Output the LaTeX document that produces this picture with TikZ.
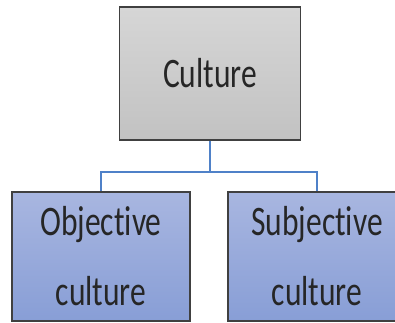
\documentclass[tikz,border=0pt]{standalone}
\usepackage{fontspec}
\newfontfamily\narrowfont[FakeStretch=0.75,Ligatures=NoCommon]{Carlito}
\definecolor{grayTop}{RGB}{214,214,214}
\definecolor{grayBot}{RGB}{194,194,194}
\definecolor{blueTop}{RGB}{168,182,224}
\definecolor{blueBot}{RGB}{136,158,214}
\definecolor{edgeGray}{RGB}{64,64,64}
\definecolor{linkBlue}{RGB}{79,129,200}
\tikzset{
  box/.style={draw=edgeGray, line width=1.2pt, inner sep=0pt, align=center,
    font=\narrowfont\fontsize{42}{70}\selectfont, text=black!85},
  topbox/.style={box, top color=grayTop, bottom color=grayBot,
    minimum width=181pt, minimum height=133pt},
  subbox/.style={box, top color=blueTop, bottom color=blueBot,
    minimum width=178pt, minimum height=129pt},
  link/.style={draw=linkBlue, line width=2.2pt}
}
\begin{document}
\begin{tikzpicture}[x=1pt,y=-1pt]
			\useasboundingbox (0,0) rectangle (395,322);
			\clip (0,0) rectangle (395,322);
			
			\node[topbox] (culture) at (210,73.5) {Culture};
			
			\node[subbox] (objective) at (101,256.5) {Objective\\culture};
			\node[subbox] (subjective) at (317,256.5) {Subjective\\culture};
			
			\draw[link] (culture.south) -- ++(0,31) -| (objective.north);
			\draw[link] (culture.south) -- ++(0,31) -| (subjective.north);
\end{tikzpicture}
\end{document}
